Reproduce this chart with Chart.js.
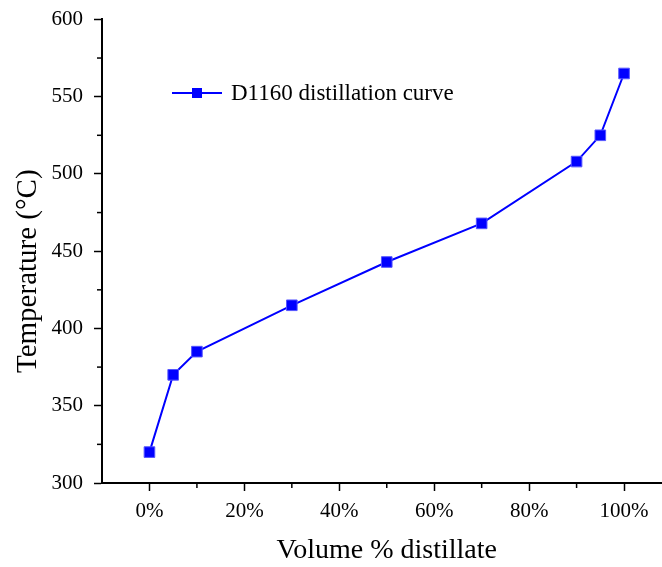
<!DOCTYPE html>
<html>
<head>
<meta charset="utf-8">
<script src="https://cdn.jsdelivr.net/npm/chart.js@4/dist/chart.umd.min.js"></script>
<style>
  html, body { margin: 0; padding: 0; background: #fff; overflow: hidden; }
  #wrap { width: 680px; height: 567px; }
</style>
</head>
<body>
<div id="wrap"><canvas id="curveChart" width="680" height="567"></canvas></div>
<script>
// D1160 distillation data
var volumePct = [0, 5, 10, 30, 50, 70, 90, 95, 100];
var temperature = [320, 370, 385, 415, 443, 468, 508, 525, 565];
var seriesName = 'D1160 distillation curve';
var xTitle = 'Volume % distillate';
var yTitle = 'Temperature (\u00B0C)';

var serif = "'Liberation Serif', 'Times New Roman', serif";
var blue = '#0000ff';

var points = volumePct.map(function (v, i) { return { x: v, y: temperature[i] }; });

// short minor ticks for the unlabeled steps
var minorTicks = {
    id: 'minorTicks',
    afterDraw: function (chart) {
        var ctx = chart.ctx;
        var xs = chart.scales.x, ys = chart.scales.y;
        ctx.save();
        ctx.strokeStyle = '#000';
        ctx.lineWidth = 1.5;
        xs.ticks.forEach(function (t) {
            if (t.value % 20 === 0 || t.value < 0) return;
            var px = xs.getPixelForValue(t.value);
            ctx.beginPath();
            ctx.moveTo(px, xs.top);
            ctx.lineTo(px, xs.top + 5);
            ctx.stroke();
        });
        ys.ticks.forEach(function (t) {
            if (t.value % 50 === 0) return;
            var py = ys.getPixelForValue(t.value);
            ctx.beginPath();
            ctx.moveTo(ys.right, py);
            ctx.lineTo(ys.right - 5, py);
            ctx.stroke();
        });
        ctx.restore();
    }
};

// legend inside the plot area + y title (sits a bit below the axis centre)
var extras = {
    id: 'extras',
    afterDraw: function (chart) {
        var ctx = chart.ctx;
        var ds = chart.data.datasets[0];
        var x0 = 172, y0 = 93;
        ctx.save();
        ctx.strokeStyle = ds.borderColor;
        ctx.lineWidth = ds.borderWidth;
        ctx.beginPath();
        ctx.moveTo(x0, y0);
        ctx.lineTo(x0 + 50, y0);
        ctx.stroke();
        ctx.fillStyle = ds.pointBackgroundColor;
        ctx.fillRect(x0 + 20, y0 - 5, 10, 10);
        ctx.fillStyle = '#000';
        ctx.font = '23px ' + serif;
        ctx.textBaseline = 'middle';
        ctx.fillText(ds.label, x0 + 59, y0 + 1);

        var ys = chart.scales.y;
        ctx.translate(28, (ys.top + ys.bottom) / 2 + 20);
        ctx.rotate(-Math.PI / 2);
        ctx.textAlign = 'center';
        ctx.font = '29px ' + serif;
        ctx.fillText(yTitle, 0, 0);
        ctx.restore();
    }
};

var ctx = document.getElementById('curveChart').getContext('2d');
var curveChart = new Chart(ctx, {
    type: 'line',
    data: {
        datasets: [{
            label: seriesName,
            data: points,
            borderColor: blue,
            borderWidth: 2,
            pointStyle: 'rect',
            pointRadius: 7.5,
            pointBackgroundColor: blue,
            pointBorderColor: '#5555ff',
            pointBorderWidth: 1,
            fill: false,
            tension: 0
        }]
    },
    options: {
        responsive: false,
        animation: false,
        layout: { padding: { top: 18, right: 1.5, left: 0, bottom: 0 } },
        plugins: {
            legend: { display: false },
            tooltip: { enabled: false }
        },
        scales: {
            x: {
                type: 'linear',
                min: -10,
                max: 110,
                afterFit: function (s) { s.height = 84; },
                border: { display: true, color: '#000', width: 2 },
                grid: {
                    drawOnChartArea: false,
                    tickLength: 8,
                    tickWidth: 1.5,
                    tickColor: function (c) {
                        var v = c.tick ? c.tick.value : 0;
                        return (v % 20 === 0 && v >= 0) ? '#000' : 'rgba(0,0,0,0)';
                    }
                },
                ticks: {
                    stepSize: 10,
                    padding: 8,
                    color: '#000',
                    font: { family: serif, size: 21 },
                    maxRotation: 0,
                    autoSkip: false,
                    callback: function (v) {
                        return (v % 20 === 0 && v >= 0 && v <= 100) ? v + '%' : '';
                    }
                },
                title: {
                    display: true,
                    text: xTitle,
                    color: '#000',
                    font: { family: serif, size: 28 },
                    padding: { top: 0, bottom: 0 }
                }
            },
            y: {
                min: 300,
                max: 600,
                afterFit: function (s) { s.width = 102; },
                border: { display: true, color: '#000', width: 2 },
                grid: {
                    drawOnChartArea: false,
                    tickLength: 8,
                    tickWidth: 1.5,
                    tickColor: function (c) {
                        var v = c.tick ? c.tick.value : 0;
                        return v % 50 === 0 ? '#000' : 'rgba(0,0,0,0)';
                    }
                },
                ticks: {
                    stepSize: 25,
                    padding: 11,
                    color: '#000',
                    font: { family: serif, size: 21, lineHeight: 0.8 },
                    autoSkip: false,
                    callback: function (v) { return v % 50 === 0 ? v : ''; }
                },
                title: { display: false }
            }
        }
    },
    plugins: [minorTicks, extras]
});
</script>
</body>
</html>
